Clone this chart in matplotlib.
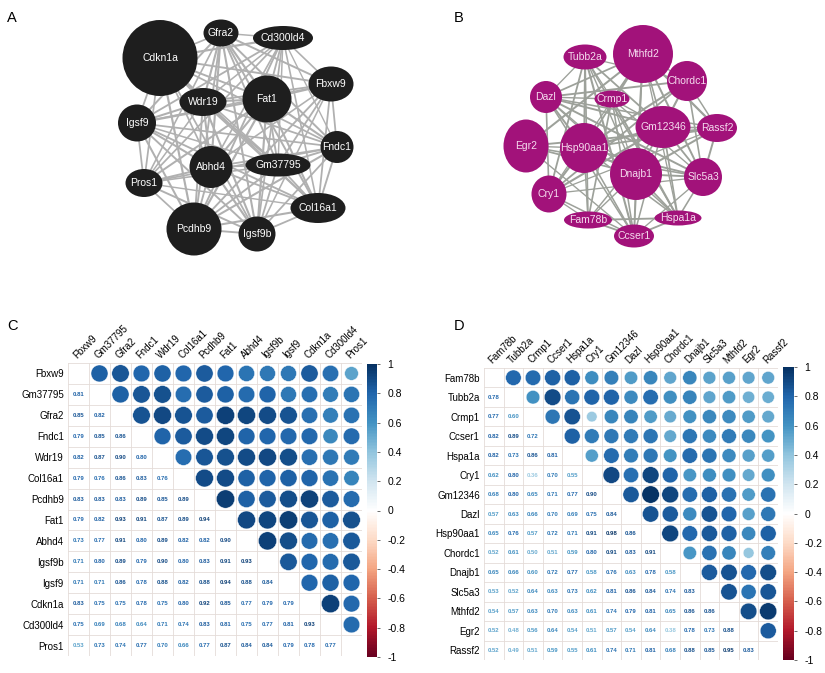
import numpy as np
import matplotlib
matplotlib.use("Agg")
import matplotlib.pyplot as plt
from matplotlib.colors import LinearSegmentedColormap, Normalize
from matplotlib.patches import Ellipse, Circle
import matplotlib.colorbar as mcolorbar

plt.rcParams['font.family'] = ['Liberation Sans', 'DejaVu Sans']

# ---------------- DATA ----------------
genes_c = ["Fbxw9", "Gm37795", "Gfra2", "Fndc1", "Wdr19", "Col16a1", "Pcdhb9",
           "Fat1", "Abhd4", "Igsf9b", "Igsf9", "Cdkn1a", "Cd300ld4", "Pros1"]
lower_c = [
    [0.81],
    [0.85, 0.82],
    [0.79, 0.85, 0.86],
    [0.82, 0.87, 0.90, 0.80],
    [0.79, 0.76, 0.86, 0.83, 0.76],
    [0.83, 0.83, 0.83, 0.89, 0.85, 0.89],
    [0.79, 0.82, 0.93, 0.91, 0.87, 0.89, 0.94],
    [0.73, 0.77, 0.91, 0.80, 0.89, 0.82, 0.82, 0.90],
    [0.71, 0.80, 0.89, 0.79, 0.90, 0.80, 0.83, 0.91, 0.93],
    [0.71, 0.71, 0.86, 0.78, 0.88, 0.82, 0.88, 0.94, 0.88, 0.84],
    [0.83, 0.75, 0.75, 0.78, 0.75, 0.80, 0.92, 0.85, 0.77, 0.79, 0.79],
    [0.75, 0.69, 0.68, 0.64, 0.71, 0.74, 0.83, 0.81, 0.75, 0.77, 0.81, 0.93],
    [0.53, 0.73, 0.74, 0.77, 0.70, 0.66, 0.77, 0.87, 0.84, 0.84, 0.79, 0.78, 0.77],
]

genes_d = ["Fam78b", "Tubb2a", "Crmp1", "Ccser1", "Hspa1a", "Cry1", "Gm12346",
           "Dazl", "Hsp90aa1", "Chordc1", "Dnajb1", "Slc5a3", "Mthfd2", "Egr2", "Rassf2"]
lower_d = [
    [0.78],
    [0.77, 0.60],
    [0.82, 0.89, 0.72],
    [0.82, 0.73, 0.86, 0.81],
    [0.62, 0.80, 0.36, 0.70, 0.55],
    [0.68, 0.80, 0.65, 0.71, 0.77, 0.90],
    [0.57, 0.63, 0.66, 0.70, 0.69, 0.75, 0.84],
    [0.65, 0.76, 0.57, 0.72, 0.71, 0.91, 0.98, 0.86],
    [0.52, 0.61, 0.50, 0.51, 0.59, 0.80, 0.91, 0.83, 0.91],
    [0.65, 0.66, 0.60, 0.72, 0.77, 0.58, 0.76, 0.63, 0.78, 0.58],
    [0.53, 0.52, 0.64, 0.63, 0.73, 0.62, 0.81, 0.86, 0.84, 0.74, 0.83],
    [0.54, 0.57, 0.63, 0.70, 0.63, 0.61, 0.74, 0.79, 0.81, 0.65, 0.86, 0.86],
    [0.52, 0.48, 0.56, 0.64, 0.54, 0.51, 0.57, 0.54, 0.64, 0.38, 0.78, 0.73, 0.88],
    [0.52, 0.49, 0.51, 0.59, 0.55, 0.61, 0.74, 0.71, 0.81, 0.68, 0.88, 0.85, 0.95, 0.83],
]

cbar_ticks = [1, 0.8, 0.6, 0.4, 0.2, 0, -0.2, -0.4, -0.6, -0.8, -1]

# ---------------- LAYOUT (network node placement, pixels) ----------------
layout_a = {  # name: (x, y, width, height)
    "Cdkn1a": (160, 58, 75, 76), "Gfra2": (221, 33, 35, 27),
    "Cd300ld4": (283, 38, 60, 24), "Fbxw9": (331, 84, 45, 35),
    "Fat1": (267, 99, 49, 47), "Wdr19": (203, 102, 47, 28),
    "Igsf9": (137, 123, 38, 37), "Fndc1": (337, 147, 33, 32),
    "Abhd4": (211, 167, 43, 42), "Gm37795": (278, 165, 65, 23),
    "Pros1": (144, 183, 37, 28), "Col16a1": (318, 208, 55, 30),
    "Pcdhb9": (194, 229, 55, 53), "Igsf9b": (257, 234, 37, 35),
}
layout_b = {
    "Tubb2a": (585, 57, 43, 25), "Mthfd2": (643, 54, 60, 58),
    "Chordc1": (687, 81, 40, 40), "Dazl": (546, 97, 32, 32),
    "Crmp1": (612, 99, 35, 17), "Gm12346": (663, 127, 55, 42),
    "Rassf2": (717, 128, 40, 28), "Egr2": (526, 146, 45, 53),
    "Hsp90aa1": (584, 148, 48, 50), "Dnajb1": (636, 174, 52, 52),
    "Slc5a3": (703, 177, 38, 38), "Cry1": (549, 194, 35, 37),
    "Fam78b": (588, 220, 48, 17), "Hspa1a": (678, 218, 47, 15),
    "Ccser1": (634, 236, 40, 23),
}


def full_matrix(lower):
    n = len(lower) + 1
    m = np.eye(n)
    for i, row in enumerate(lower, start=1):
        for j, v in enumerate(row):
            m[i, j] = v
            m[j, i] = v
    return m


mat_c = full_matrix(lower_c)
mat_d = full_matrix(lower_d)

cmap = LinearSegmentedColormap.from_list(
    "corrRdBu",
    ["#67001F", "#B2182B", "#D6604D", "#F4A582", "#FDDBC7", "#FFFFFF",
     "#D1E5F0", "#92C5DE", "#4393C3", "#2166AC", "#053061"], N=200)
norm = Normalize(-1, 1)

W, H = 825, 673
fig = plt.figure(figsize=(W / 100, H / 100), dpi=100)
fig.patch.set_facecolor("white")

# ---------------- networks ----------------
ax0 = fig.add_axes([0, 0, 1, 1])
ax0.set_xlim(0, W)
ax0.set_ylim(H, 0)
ax0.axis("off")


def draw_network(ax, genes, mat, layout, node_color, text_color, edge_color):
    n = len(genes)
    for i in range(n):
        for j in range(i + 1, n):
            r = mat[i, j]
            if r < 0.6:
                continue
            x1, y1 = layout[genes[i]][:2]
            x2, y2 = layout[genes[j]][:2]
            ax.plot([x1, x2], [y1, y2], color=edge_color,
                    lw=0.9 + 2.0 * (r - 0.6), zorder=1, solid_capstyle="butt")
    for g in genes:
        x, y, w, h = layout[g]
        ax.add_patch(Ellipse((x, y), w, h, facecolor=node_color,
                             edgecolor="none", zorder=2))
        ax.text(x, y, g, color=text_color, fontsize=7.5, ha="center",
                va="center", zorder=3)


draw_network(ax0, genes_c, mat_c, layout_a, "#1e1e1e", "white", "#b0b0b0")
draw_network(ax0, genes_d, mat_d, layout_b, "#A2127A", "#f5dcef", "#9da19a")

for lab, (x, y) in {"A": (12, 18), "B": (459, 18),
                    "C": (13, 326), "D": (459, 326)}.items():
    ax0.text(x, y, lab, fontsize=10.5, ha="center", va="center")


# ---------------- correlation matrices ----------------
def px_axes(x0, y0, x1, y1):
    return fig.add_axes([x0 / W, 1 - y1 / H, (x1 - x0) / W, (y1 - y0) / H])


def draw_corr(ax, cax, genes, mat):
    n = len(genes)
    ax.set_xlim(-0.5, n - 0.5)
    ax.set_ylim(n - 0.5, -0.5)
    for k in range(n + 1):
        ax.axhline(k - 0.5, color="#e4dcd8", lw=0.6, zorder=1)
        ax.axvline(k - 0.5, color="#e4dcd8", lw=0.6, zorder=1)
    for i in range(n):
        for j in range(n):
            r = mat[i, j]
            if j > i:
                ax.add_patch(Circle((j, i), 0.45 * np.sqrt(abs(r)),
                                    facecolor=cmap(norm(r)),
                                    edgecolor="white", lw=0.3, zorder=2))
            elif j < i:
                ax.text(j, i, f"{r:.2f}", color=cmap(norm(r)), fontsize=4.3,
                        fontweight="bold", ha="center", va="center", zorder=2)
    for s in ax.spines.values():
        s.set_visible(False)
    ax.xaxis.tick_top()
    ax.set_xticks(range(n))
    ax.set_xticklabels(genes, rotation=45, ha="left", rotation_mode="anchor",
                       fontsize=7)
    ax.set_yticks(range(n))
    ax.set_yticklabels(genes, fontsize=7)
    ax.tick_params(length=0, pad=3)
    ax.tick_params(axis="x", pad=2)

    cb = mcolorbar.ColorbarBase(cax, cmap=cmap, norm=norm,
                                orientation="vertical", ticks=cbar_ticks)
    cb.outline.set_visible(False)
    cb.ax.set_yticklabels([f"{t:g}" for t in cbar_ticks])
    cax.tick_params(labelsize=7.5, length=2.5, width=0.6, color="#555555",
                    pad=5)


axc = px_axes(68, 363, 362, 656)
caxc = px_axes(367, 364, 377, 657)
draw_corr(axc, caxc, genes_c, mat_c)

axd = px_axes(484, 368, 778, 660)
caxd = px_axes(783, 367, 794, 660)
draw_corr(axd, caxd, genes_d, mat_d)

fig.savefig("out.png", dpi=100, facecolor="white")
